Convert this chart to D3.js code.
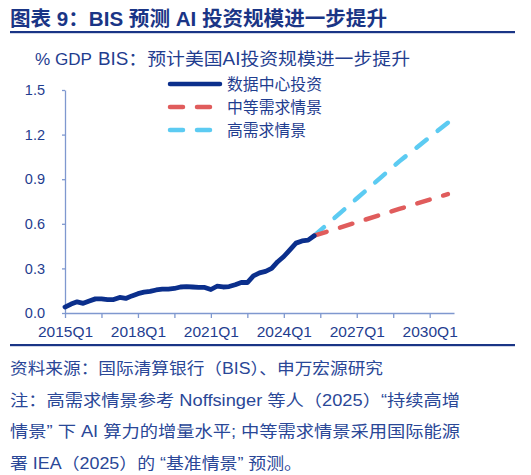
<!DOCTYPE html>
<html><head><meta charset="utf-8">
<script src="https://cdn.jsdelivr.net/npm/d3@7"></script>
<style>
body{margin:0;background:#fff;}
svg{display:block;font-family:"Liberation Sans",Arial,"Noto Sans CJK SC",sans-serif;}
</style></head>
<body><svg id="c" width="531" height="475"></svg>
<script>
// quarter labels: index 0 = 2015Q1
const startYear = 2015;
const xTickLabels = ["2015Q1","2018Q1","2021Q1","2024Q1","2027Q1","2030Q1"];
const yTicks = [0.0,0.3,0.6,0.9,1.2,1.5];
// 数据中心投资 (% GDP), quarterly 2015Q1 .. 2025Q2
const dcInvest = [0.04,0.06,0.075,0.065,0.08,0.095,0.095,0.09,0.09,0.105,0.098,0.115,
  0.13,0.14,0.145,0.155,0.16,0.16,0.165,0.175,0.178,0.175,0.172,0.172,
  0.158,0.18,0.175,0.178,0.19,0.205,0.205,0.25,0.27,0.28,0.30,0.345,
  0.38,0.425,0.47,0.485,0.49,0.52];
// scenarios: [quarter index, value]
const midScenario = [[41,0.52],[48,0.61],[55,0.70],[63,0.80]];
const highScenario = [[41,0.52],[48,0.77],[55,1.02],[63,1.28]];
const legendNames = ["数据中心投资","中等需求情景","高需求情景"];
const footLines = ["资料来源：国际清算银行（BIS）、申万宏源研究",
  "注：高需求情景参考 Noffsinger 等人（2025）“持续高增",
  "情景” 下 AI 算力的增量水平; 中等需求情景采用国际能源",
  "署 IEA（2025）的 “基准情景” 预测。"];

const navy="#0b2f8c", red="#e05c5c", cyan="#5ccbf2", txt="#1f3d8f", axisC="#7f98cf";
const svg=d3.select("#c");

function fitText(sel,len){ sel.attr("textLength",len).attr("lengthAdjust","spacingAndGlyphs"); return sel; }

// header
fitText(svg.append("text").attr("x",10).attr("y",26).attr("font-size",20).attr("font-weight","bold")
  .attr("fill","#1a3586").text("图表 9：BIS 预测 AI 投资规模进一步提升"),377);
svg.append("rect").attr("x",10).attr("y",31).attr("width",505).attr("height",2.2).attr("fill","#1a3586");
fitText(svg.append("text").attr("x",35).attr("y",65).attr("font-size",17).attr("fill",txt).text("% GDP"),57);
fitText(svg.append("text").attr("x",98).attr("y",65).attr("font-size",17.5).attr("fill",txt).text("BIS：预计美国AI投资规模进一步提升"),312);

const x=d3.scaleLinear().domain([0,64]).range([65,454]);
const y=d3.scaleLinear().domain([0,1.5]).range([313,90]);

// axes
const xa=svg.append("g").attr("transform","translate(0,313)")
  .call(d3.axisBottom(x).tickValues(d3.range(0,61,6)).tickSize(5).tickSizeOuter(0)
    .tickFormat(d=> d%12===0 ? xTickLabels[d/12] : ""));
xa.select(".domain").attr("stroke",axisC).attr("stroke-width",1.3);
xa.selectAll("line").attr("stroke",axisC).attr("stroke-width",1.3);
xa.selectAll("text").attr("fill",txt).attr("font-size",15.5).attr("dy","1.0em")
  .attr("font-family","'Liberation Sans',Arial,sans-serif");

const ya=svg.append("g").attr("transform","translate(65,0)")
  .call(d3.axisLeft(y).tickValues(yTicks).tickSize(3).tickSizeOuter(0).tickPadding(17).tickFormat(d3.format(".1f")));
ya.select(".domain").attr("stroke",axisC).attr("stroke-width",1.3);
ya.selectAll("line").attr("stroke",axisC).attr("stroke-width",1.3);
ya.selectAll("text").attr("fill",txt).attr("font-size",14.5).attr("font-family","'Liberation Sans',Arial,sans-serif");

const line=d3.line().x(d=>x(d[0])).y(d=>y(d[1]));
svg.append("path").datum(highScenario).attr("d",line).attr("fill","none").attr("stroke",cyan)
  .attr("stroke-width",4.5).attr("stroke-linecap","round").attr("stroke-dasharray","13,14");
svg.append("path").datum(midScenario).attr("d",line).attr("fill","none").attr("stroke",red)
  .attr("stroke-width",4.5).attr("stroke-linecap","round").attr("stroke-dasharray","13,14");
svg.append("path").datum(dcInvest.map((v,i)=>[i,v])).attr("d",line).attr("fill","none").attr("stroke",navy)
  .attr("stroke-width",4.8).attr("stroke-linejoin","round").attr("stroke-linecap","round");

// legend
const lg=[{c:navy,dash:null,w:95},{c:red,dash:"13,14",w:95},{c:cyan,dash:"13,14",w:79}];
const rowsY=[84,107,130];
lg.forEach((l,i)=>{
  const ln=svg.append("line").attr("x1",170).attr("x2",220).attr("y1",rowsY[i]).attr("y2",rowsY[i])
    .attr("stroke",l.c).attr("stroke-width",4.5).attr("stroke-linecap","round");
  if(l.dash) ln.attr("stroke-dasharray",l.dash).attr("x2",213);
  fitText(svg.append("text").attr("x",227).attr("y",rowsY[i]+6).attr("font-size",16).attr("fill",txt).text(legendNames[i]),l.w);
});

// footer
svg.append("rect").attr("x",10).attr("y",344).attr("width",505).attr("height",2.2).attr("fill","#1a3586");
const fy=[374,406,437,469];
const fw=[373,450,450,292];
footLines.forEach((t,i)=>fitText(svg.append("text").attr("x",10).attr("y",fy[i]).attr("font-size",16)
  .attr("fill","#2a4797").attr("xml:space","preserve").text(t),fw[i]));
</script></body></html>
